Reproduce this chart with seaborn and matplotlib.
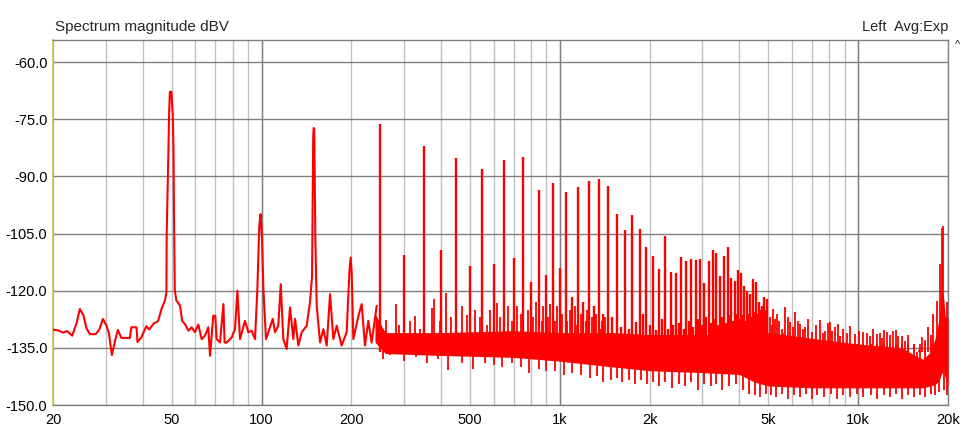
import matplotlib
matplotlib.use("Agg")
import matplotlib.pyplot as plt
import seaborn as sns
import numpy as np
from matplotlib.ticker import FixedLocator, LogLocator, NullFormatter

# --- low end trace (Hz, dBV) ---
low_f = [20.0, 20.8, 21.6, 22.3, 23.2, 24.0, 24.6, 25.3, 25.9, 26.6, 27.8, 28.6, 29.4,
         30.2, 30.8, 31.5, 32.3, 33.0, 33.9, 36.2, 36.6, 38.1, 38.4, 39.6, 41.1, 42.0,
         43.5, 45.0, 46.2, 47.5, 48.0, 48.1, 48.7, 49.0, 49.3, 49.9, 50.1, 50.4, 50.7,
         50.9, 51.2, 51.8, 53.3, 54.2, 55.4, 56.9, 58.3, 59.8, 61.4, 63.0, 64.6, 66.3,
         67.2, 68.9, 70.0, 70.7, 72.6, 74.5, 75.2, 76.4, 79.4, 81.5, 83.0, 84.7, 88.0,
         90.3, 92.7, 95.1, 96.8, 98.3, 99.3, 100.4, 101.4, 103.5, 105.4, 109.0, 111.0,
         113.8, 116.0, 118.3, 121.4, 124.6, 127.8, 129.5, 132.9, 136.4, 141.7, 145.4,
         147.7, 149.0, 149.5, 150.2, 151.0, 151.5, 153.1, 157.1, 161.2, 165.4, 169.7,
         174.1, 178.6, 185.6, 192.9, 197.0, 199.0, 200.5, 203.1, 211.3, 216.6, 222.2,
         228.0, 234.0, 243.2]
low_db = [-130.2, -130.4, -131.0, -130.6, -131.8, -128.5, -124.8, -126.5, -129.9, -131.4,
          -131.4, -130.2, -127.4, -129.1, -131.2, -136.9, -133.1, -130.3, -132.4, -132.4,
          -129.6, -129.6, -133.5, -132.2, -129.3, -130.2, -128.6, -128.0, -124.8, -122.5,
          -120.3, -105.0, -85.0, -73.5, -67.8, -67.8, -70.5, -73.5, -83.5, -101.4, -119.8,
          -122.5, -123.9, -127.9, -128.8, -130.5, -129.6, -130.9, -128.9, -132.7, -131.8,
          -129.6, -137.1, -126.6, -126.6, -132.7, -133.6, -123.5, -133.6, -133.6, -132.3,
          -130.1, -120.0, -132.7, -127.9, -130.9, -130.5, -132.7, -120.0, -102.9, -99.9,
          -106.4, -119.1, -132.7, -130.9, -127.4, -130.9, -129.2, -118.3, -132.7, -135.3,
          -124.4, -132.7, -127.4, -134.4, -130.9, -129.2, -123.0, -116.1, -80.0, -77.3,
          -77.5, -95.0, -106.4, -124.0, -133.6, -130.1, -134.4, -120.9, -132.7, -129.2,
          -134.4, -130.9, -115.2, -111.3, -115.0, -132.7, -126.6, -123.5, -134.4, -127.9,
          -133.6, -124.0]

# --- mains harmonics 250 Hz .. 4.95 kHz ---
harm_f = [250, 300, 350, 400, 450, 500, 550, 600, 650, 700, 750, 800, 850, 900, 950,
          1000, 1050, 1100, 1150, 1200, 1250, 1300, 1350, 1400, 1450, 1500, 1550, 1600,
          1650, 1700, 1750, 1800, 1850, 1900, 1950, 2000, 2050, 2100, 2150, 2200, 2250,
          2300, 2350, 2400, 2450, 2500, 2550, 2600, 2650, 2700, 2750, 2800, 2850, 2900,
          2950, 3000, 3050, 3100, 3150, 3200, 3250, 3300, 3350, 3400, 3450, 3500, 3550,
          3600, 3650, 3700, 3750, 3800, 3850, 3900, 3950, 4000, 4050, 4100, 4150, 4200,
          4250, 4300, 4350, 4400, 4450, 4500, 4550, 4600, 4650, 4700, 4750, 4800, 4850,
          4900, 4950]
harm_db = [-76.3, -110.6, -82.0, -109.3, -85.2, -113.5, -88.1, -113.0, -85.7, -111.4,
           -85.0, -117.7, -93.6, -116.0, -91.7, -114.0, -94.0, -121.6, -92.8, -123.0,
           -91.2, -124.0, -90.7, -126.0, -92.6, -127.0, -99.9, -129.6, -104.0, -130.0,
           -100.1, -128.3, -103.8, -126.0, -108.6, -129.0, -111.0, -130.4, -114.3, -127.5,
           -105.7, -130.0, -115.2, -129.0, -115.3, -128.5, -111.2, -130.0, -112.1, -128.0,
           -111.7, -129.5, -111.9, -127.5, -111.7, -129.0, -118.1, -127.0, -112.3, -128.5,
           -109.2, -127.5, -110.1, -129.0, -116.2, -127.0, -111.0, -128.5, -108.4, -126.5,
           -116.7, -128.0, -117.5, -126.0, -114.6, -127.5, -115.3, -126.5, -118.7, -128.0,
           -120.2, -126.0, -120.9, -127.0, -116.9, -125.5, -117.8, -126.0, -123.0, -125.0,
           -123.9, -126.5, -121.7, -125.0, -122.3]

# --- other spikes sticking up out of the noise ---
spur_f = [262, 282, 290, 315, 327, 340, 372, 380, 395, 415, 430, 470, 490,
          520, 540, 570, 584, 614, 630, 670, 690, 720, 740, 780, 810, 830, 870, 880,
          910, 930, 960, 980, 1020, 1060, 1080, 1120, 1130, 1175, 1220, 1230, 1280,
          1300, 1320, 1370, 1380, 1420,
          5066, 5130, 5196, 5260, 5335, 5440, 5544, 5610, 5688, 5800, 5912, 6030, 6145,
          6260, 6388, 6510, 6638, 6810, 6990, 7200, 7453, 7600, 7745, 7900, 8050, 8200,
          8366, 8530, 8696, 8900, 9156, 9400, 9766, 10100, 10414, 10700, 10964, 11250,
          11544, 11800, 11996, 12250, 12468, 12750, 13060, 13350, 13638, 14000, 14364,
          14700, 15126, 15400, 15722, 16000, 16340, 16700, 17200, 17500, 17868, 18342,
          18818, 19050, 19304, 19816]
spur_db = [-127.6, -123.4, -129.0, -128.0, -126.7, -130.0, -124.5, -122.3,
           -128.0, -120.6, -127.0, -124.0, -126.5, -125.0, -127.0, -129.0, -125.0, -123.2,
           -127.0, -124.0, -128.0, -124.0, -126.0, -125.0, -127.0, -123.0, -128.0, -124.0,
           -127.0, -123.5, -128.0, -124.0, -126.0, -128.0, -125.0, -124.0, -129.0, -126.0,
           -128.0, -125.0, -127.0, -129.0, -126.0, -130.0, -128.0, -127.0,
           -127.0, -129.0, -124.8, -127.5, -126.0, -128.0, -130.0, -131.0, -124.4, -127.0,
           -128.3, -129.5, -125.7, -128.0, -128.7, -130.0, -129.6, -127.5, -130.9, -129.0,
           -127.8, -131.0, -130.5, -128.5, -128.3, -130.5, -129.5, -128.7, -131.8, -130.0,
           -131.0, -129.2, -131.3, -130.5, -130.9, -131.0, -131.8, -130.0, -131.3, -131.0,
           -132.5, -130.2, -130.9, -131.5, -130.7, -130.4, -131.8, -132.0, -133.1, -131.5,
           -136.2, -134.0, -137.9, -135.5, -132.2, -133.0, -129.6, -131.5, -126.1, -122.6,
           -113.0, -103.5, -103.0, -123.0]

# --- dips reaching below the noise ---
dip_f = [255, 270, 300, 330, 360, 390, 421, 470, 510, 560, 600, 640, 690, 740, 790,
         850, 900, 960, 1030, 1100, 1180, 1260, 1330, 1400, 1480, 1550, 1620, 1700, 1780,
         1870, 1960, 2050, 2150, 2250, 2380, 2500, 2620, 2750, 2900, 3050, 3200, 3350,
         3500, 3700, 3900, 4100, 4300, 4500, 4700, 4900, 5100, 5300, 5550, 5800, 6100,
         6400, 6700, 7000, 7300, 7700, 8100, 8500, 8900, 9400, 9900, 10400, 11000, 11600,
         12200, 12800, 13400, 14000, 14700, 15400, 16100, 16800, 17500, 18100, 18700,
         19400, 19900]
dip_db = [-138.0, -137.0, -138.5, -137.5, -139.0, -138.0, -140.7, -139.0, -140.5,
          -139.0, -139.5, -140.0, -139.0, -140.0, -141.5, -140.5, -141.0, -141.0, -142.0,
          -141.5, -142.0, -143.0, -142.5, -144.0, -143.5, -143.0, -144.0, -143.5, -144.5,
          -143.5, -144.5, -144.0, -145.0, -144.0, -145.5, -144.5, -145.0, -144.0, -146.0,
          -144.5, -145.0, -144.5, -146.0, -145.0, -144.5, -146.0, -147.0, -147.5, -148.0,
          -147.0, -147.5, -148.0, -147.0, -148.5, -147.5, -148.0, -147.0, -148.5, -147.5,
          -148.0, -147.0, -148.5, -147.5, -148.0, -147.0, -148.0, -147.5, -148.5, -147.5,
          -148.0, -147.0, -148.5, -147.5, -148.0, -147.5, -148.0, -147.0, -147.5, -146.5,
          -146.0, -147.5]

# --- dense core of the noise floor (bottom / top) ---
band_f = [240, 260, 400, 700, 1000, 1500, 2000, 3000, 4000, 4500, 5000, 7000, 10000,
          14000, 15500, 16500, 17500, 18200, 18700, 19000, 19300, 19600, 20000]
band_lo = [-133.5, -136.5, -137.0, -137.5, -138.5, -140.0, -141.0, -141.5, -142.0, -144.0,
           -145.0, -145.5, -145.5, -145.5, -145.5, -145.5, -145.0, -144.5, -143.5, -142.0,
           -141.0, -143.0, -145.0]
band_hi = [-126.0, -131.0, -131.0, -130.5, -131.0, -131.0, -131.5, -131.5, -132.0, -132.5,
           -131.0, -132.5, -134.0, -135.0, -137.0, -138.0, -136.0, -132.0, -127.0, -121.0,
           -121.0, -127.0, -127.0]

xtick_vals = [20, 50, 100, 200, 500, 1000, 2000, 5000, 10000, 20000]
xtick_labels = ["20", "50", "100", "200", "500", "1k", "2k", "5k", "10k", "20k"]
ytick_vals = [-60, -75, -90, -105, -120, -135, -150]

sns.set_theme(style="white")
plt.rcParams["font.family"] = ["Liberation Sans", "DejaVu Sans"]

fig = plt.figure(figsize=(9.67, 4.36), dpi=100)
ax = fig.add_axes([53 / 967, 1 - 405 / 436, 895 / 967, 365 / 436])

RED = "#ff0000"
ax.fill_between(band_f, band_lo, band_hi, color=RED, lw=0, zorder=3)
ax.vlines(dip_f, dip_db, -134, color=RED, lw=1.3, zorder=3)
ax.vlines(spur_f, -136, spur_db, color=RED, lw=1.3, zorder=3)
ax.vlines(harm_f, -136, harm_db, color=RED, lw=1.7, zorder=3)
sns.lineplot(x=low_f, y=low_db, ax=ax, color=RED, lw=1.5, sort=False,
             estimator=None, zorder=4)

ax.set_xscale("log")
ax.set_xlim(20, 20000)
ax.set_ylim(-150, -54.2)

ax.xaxis.set_major_locator(FixedLocator(xtick_vals))
ax.set_xticklabels(xtick_labels)
ax.xaxis.set_minor_locator(LogLocator(base=10, subs=np.arange(1, 10)))
ax.xaxis.set_minor_formatter(NullFormatter())
ax.xaxis.remove_overlapping_locs = False
ax.set_yticks(ytick_vals)
ax.set_yticklabels([f"{v:.1f}" for v in ytick_vals])

ax.grid(False)
ax.grid(True, which="minor", axis="x", color="#c0c0c0", lw=1.0, zorder=0)
ax.grid(True, which="major", axis="y", color="#808080", lw=1.0, zorder=1)
for dec in [100, 1000, 10000]:
    ax.axvline(dec, color="#808080", lw=1.0, zorder=1)
ax.set_axisbelow(True)

ax.tick_params(axis="both", length=0, labelsize=10.5, colors="black")
ax.tick_params(axis="x", pad=6)
ax.tick_params(axis="y", pad=4)
for side in ["top", "right", "bottom"]:
    ax.spines[side].set_color("#808080")
    ax.spines[side].set_linewidth(1.0)
ax.spines["left"].set_color("#c8c040")
ax.spines["left"].set_linewidth(1.2)
ax.set_xlabel("")
ax.set_ylabel("")

fig.text(55 / 967, 1 - 27 / 436, "Spectrum magnitude dBV", fontsize=11,
         va="center", ha="left")
fig.text(948 / 967, 1 - 27 / 436, "Left  Avg:Exp", fontsize=10.5,
         va="center", ha="right")
fig.text(958 / 967, 1 - 45 / 436, "^", fontsize=8, va="center", ha="center")

fig.savefig("out.png", dpi=100, facecolor="white")
